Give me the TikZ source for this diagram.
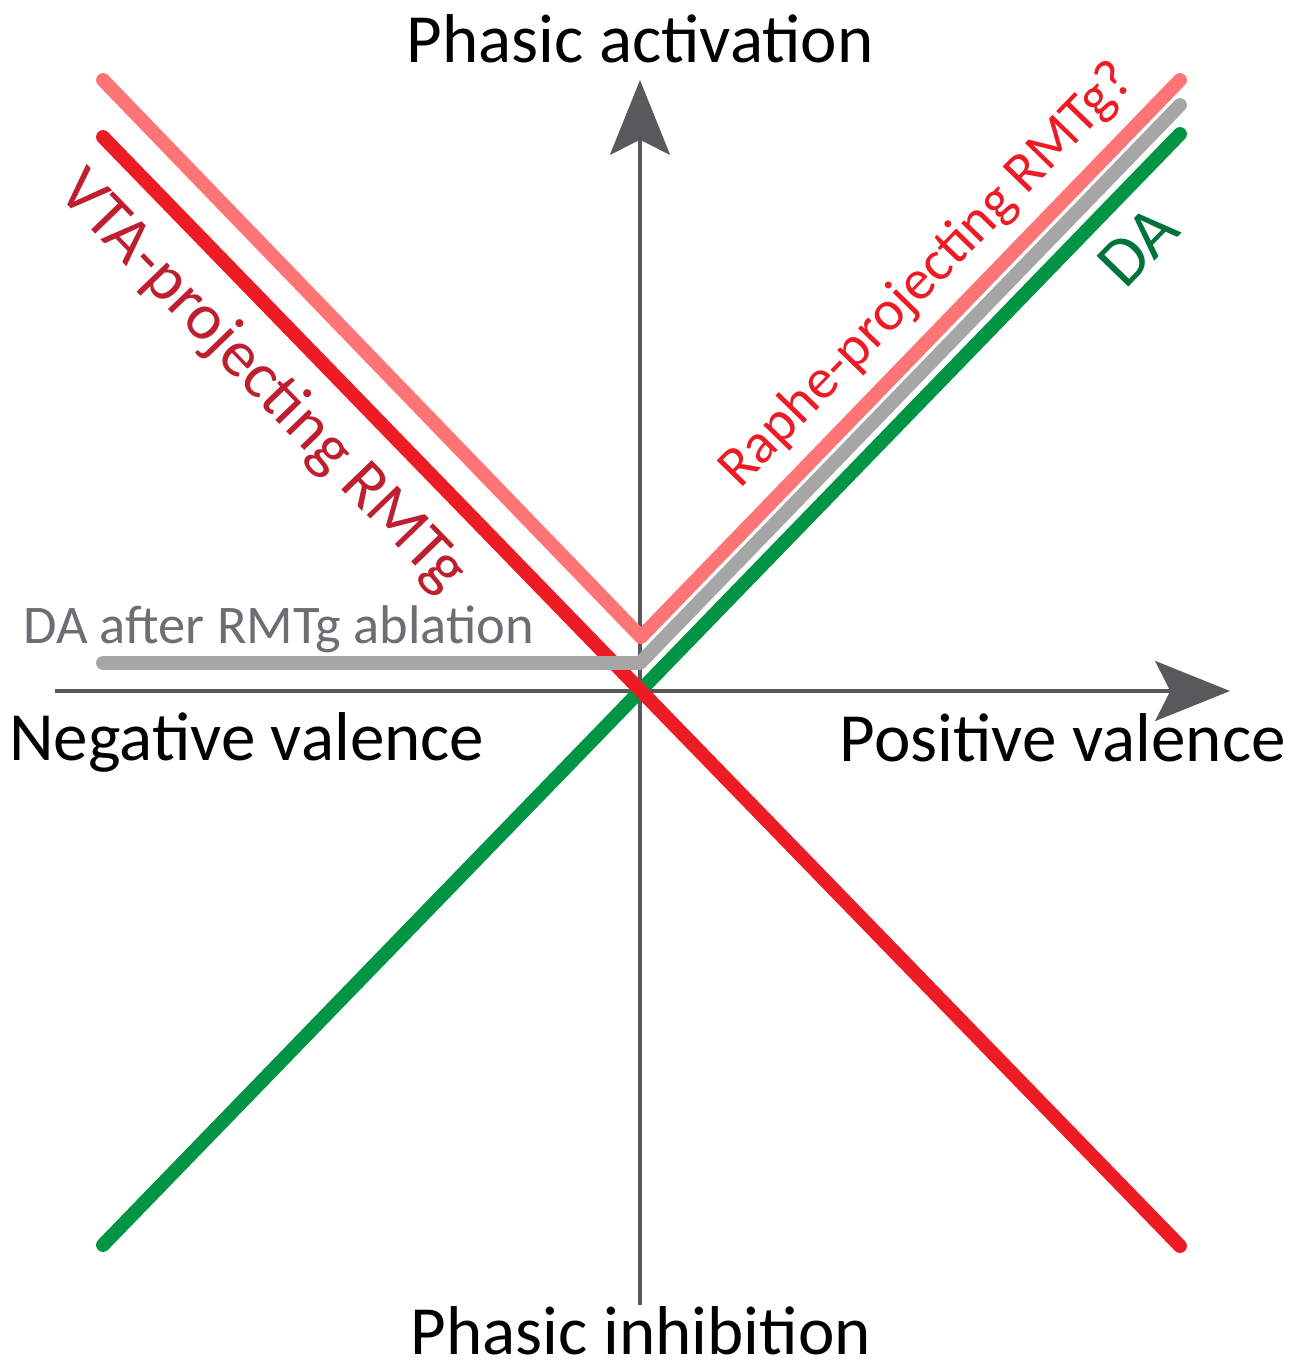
\documentclass[tikz,border=0pt]{standalone}
\usepackage{fontspec}
\setmainfont{Carlito}
\usetikzlibrary{arrows.meta}
\definecolor{axisgray}{HTML}{58595B}
\definecolor{dagreen}{HTML}{009444}
\definecolor{datext}{HTML}{00733A}
\definecolor{vtared}{HTML}{ED1C24}
\definecolor{vtatext}{HTML}{BE1E2D}
\definecolor{raphepink}{HTML}{FF7474}
\definecolor{ablgray}{HTML}{A6A6A6}
\definecolor{abltext}{HTML}{6D6E71}
\begin{document}
\begin{tikzpicture}[x=0.02cm,y=-0.02cm,
  axisline/.style={draw=axisgray, line width=2.83pt, -{Stealth[length=42.5pt,width=34pt,inset=8.5pt]}},
  curve/.style={line width=7.9pt, line cap=round, line join=round},
  biglabel/.style={inner sep=0pt, font=\fontsize{39.3}{44}\selectfont},
  midlabel/.style={inner sep=0pt, font=\fontsize{32.5}{36}\selectfont},
  vtalabel/.style={inner sep=0pt, font=\fontsize{37.5}{41}\selectfont},
  smalllabel/.style={inner sep=0pt, font=\fontsize{31}{34}\selectfont}]
\useasboundingbox (0,0) rectangle (1289,1363);
% axes
\coordinate (xl) at (55,691);
\coordinate (xr) at (1230,691);
\coordinate (yb) at (640,1305);
\coordinate (yt) at (640,80);
\draw[axisline] (xl) -- (xr);
\draw[axisline] (yb) -- (yt);
% response lines
\coordinate (g1) at (103,1245);
\coordinate (g2) at (1180,134);
\coordinate (r1) at (103,137);
\coordinate (r2) at (1180,1246);
\coordinate (p1) at (103,80);
\coordinate (pc) at (641,637);
\coordinate (p2) at (1180,80);
\coordinate (a1) at (103,663);
\coordinate (ac) at (640,663);
\coordinate (a2) at (1180,105);
\draw[curve, dagreen] (g1) -- (g2);
\draw[curve, vtared] (r1) -- (r2);
\draw[curve, ablgray] (a1) -- (ac) -- (a2);
\draw[curve, raphepink] (p1) -- (pc) -- (p2);
% axis labels
\node[biglabel, anchor=base] (top) at (640,62) {Phasic activation};
\node[biglabel, anchor=base] (bottom) at (641,1354) {Phasic inhibition};
\node[biglabel, anchor=base west] (neg) at (9,760) {Negative valence};
\node[biglabel, anchor=base east] (pos) at (1286,761) {Positive valence};
% curve labels
\node[smalllabel, anchor=base west, text=abltext] (abl) at (23,643) {DA after RMTg ablation};
\node[vtalabel, anchor=base west, text=vtatext, rotate=-46] (vta) at (56,193) {VTA-projecting RMTg};
\node[midlabel, anchor=base west, text=vtared, rotate=45.8] (raphe) at (740,490) {Raphe-projecting RMTg?};
\node[biglabel, anchor=base west, text=datext, rotate=45.8] (da) at (1125,291) {DA};
\end{tikzpicture}
\end{document}
